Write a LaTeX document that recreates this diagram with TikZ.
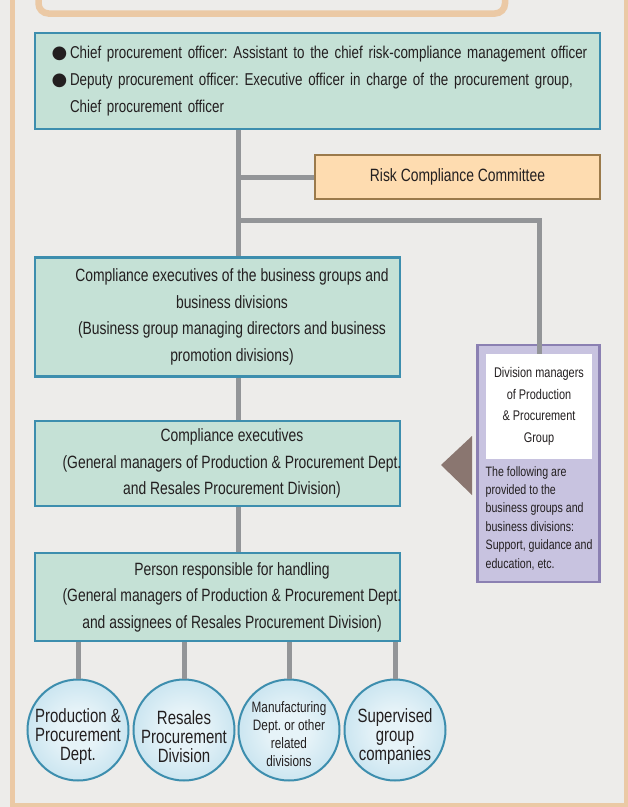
\documentclass[tikz,border=0pt]{standalone}
\usepackage{fontspec}
\setmainfont{Liberation Sans}[FakeStretch=0.78]
\newfontfamily\dotfont{DejaVu Sans}
\usetikzlibrary{shapes,shapes.misc}
\definecolor{bggray}{HTML}{EDECEA}
\definecolor{framebeige}{HTML}{EBC9A5}
\definecolor{mint}{HTML}{C5E1D6}
\definecolor{boxline}{HTML}{3D8EAE}
\definecolor{conngray}{HTML}{939598}
\definecolor{riskfill}{HTML}{FEDCB0}
\definecolor{riskline}{HTML}{9B7A4B}
\definecolor{lilac}{HTML}{C8C3E0}
\definecolor{lilacline}{HTML}{8B80B2}
\definecolor{pointer}{HTML}{8A7670}
\definecolor{txt}{HTML}{231F20}
\definecolor{ballin}{HTML}{E6F3F8}
\definecolor{ballout}{HTML}{9FCFE4}
\pgfdeclareradialshading{ballblue}{\pgfpoint{0bp}{0bp}}{color(0bp)=(ballin); color(10bp)=(ballin); color(50bp)=(ballout)}
\newcommand{\bigdot}{{\dotfont\fontsize{18}{18}\selectfont ●}}
\frenchspacing

\begin{document}
\begin{tikzpicture}[x=1pt,y=-1pt,
      every node/.append style={text=txt,font=\fontsize{17.8}{26.6}\selectfont},
      conn/.style={draw=conngray,line width=5}]
    \tikzstyle{box} = [draw=boxline,fill=mint,line width=2.5,align=center,inner sep=0]
    \tikzstyle{boxtext} = [align=center,inner sep=0,xshift=14.5]
    \tikzstyle{unit} = [circle,draw=boxline,line width=2,shading=ballblue,minimum size=101,inner sep=0]
    \tikzstyle{unittext} = [align=center,inner sep=0,yshift=-6.5,font=\fontsize{19.2}{19}\selectfont]
    \useasboundingbox (0,0) rectangle (628,807);
    \fill[bggray] (0,0) rectangle (628,807);
    \draw[framebeige,line width=5.5] (12.5,-20) rectangle (627,805.5);
    \draw[framebeige,line width=6.5,rounded corners=10] (38.5,-30) rectangle (505,13.5);
    % officers
    \node[box,minimum width=565,minimum height=96,align=left,text width=560,font=\fontsize{17.15}{26.6}\selectfont] (cpo) at (317.5,81)
      {\hspace*{14pt}\bigdot\,Chief procurement officer: Assistant to the chief risk-compliance management officer\\
       \hspace*{14pt}\bigdot\,Deputy procurement officer: Executive officer in charge of the procurement group,\\
       \hspace*{14pt}\phantom{\bigdot\,}Chief procurement officer};
    \node[draw=riskline,fill=riskfill,line width=2.5,minimum width=285,minimum height=44] (risk) at (457.5,177)
      {Risk Compliance Committee};
    % compliance chain
    \node[box,minimum width=365,minimum height=119] (comp1) at (217.5,317) {};
    \node[boxtext] (comp1txt) at (comp1.center)
      {Compliance executives of the business groups and\\business divisions\\(Business group managing directors and business\\promotion divisions)};
    \node[box,minimum width=365,minimum height=85] (comp2) at (217.5,463.5) {};
    \node[boxtext] (comp2txt) at (comp2.center)
      {Compliance executives\\(General managers of Production \& Procurement Dept.\\and Resales Procurement Division)};
    \node[box,minimum width=365,minimum height=88] (comp3) at (217.5,597) {};
    \node[boxtext] (comp3txt) at (comp3.center)
      {Person responsible for handling\\(General managers of Production \& Procurement Dept.\\and assignees of Resales Procurement Division)};
    % division managers
    \node[draw=lilacline,fill=lilac,line width=2.5,minimum width=122,minimum height=237] (div) at (538.5,463.5) {};
    \node[fill=white,minimum width=106,minimum height=105,inner sep=0,align=center,font=\fontsize{14}{21.5}\selectfont] (divhead) at (539,406.5)
      {Division managers\\of Production\\\& Procurement\\Group};
    \node[anchor=north west,inner sep=0,align=left,font=\fontsize{13.6}{18.4}\selectfont] (divtext) at (485.5,466)
      {The following are\\provided to the\\business groups and\\business divisions:\\Support, guidance and\\education, etc.};
    \fill[pointer] (441,465) -- (472,436) -- (472,495) -- cycle;
    % units
    \node[unit] (u1) at (78,730) {};
    \node[unit] (u2) at (184,730) {};
    \node[unit] (u3) at (289,730) {};
    \node[unit] (u4) at (395,730) {};
    \node[unittext] (u1txt) at (u1.center) {Production \&\\Procurement\\Dept.};
    \node[unittext] (u2txt) at (u2.center) {Resales\\Procurement\\Division};
    \node[unittext,yshift=2.5,font=\fontsize{15.1}{18}\selectfont] (u3txt) at (u3.center) {Manufacturing\\Dept. or other\\related\\divisions};
    \node[unittext] (u4txt) at (u4.center) {Supervised\\group\\companies};
    % connectors
    \coordinate (trunk) at (238,0);
    \coordinate (fork) at (238,220);
    \draw[conn] (cpo.south -| trunk) -- (comp1.north -| trunk);
    \draw[conn] (risk.west) -- (risk.west -| trunk);
    \draw[conn] (fork) -| (divhead.north);
    \draw[conn] (comp1.south -| trunk) -- (comp2.north -| trunk);
    \draw[conn] (comp2.south -| trunk) -- (comp3.north -| trunk);
    \foreach \u in {u1,u2,u3,u4}
      \draw[conn] (comp3.south -| \u.north) -- (\u.north);
\end{tikzpicture}
\end{document}
